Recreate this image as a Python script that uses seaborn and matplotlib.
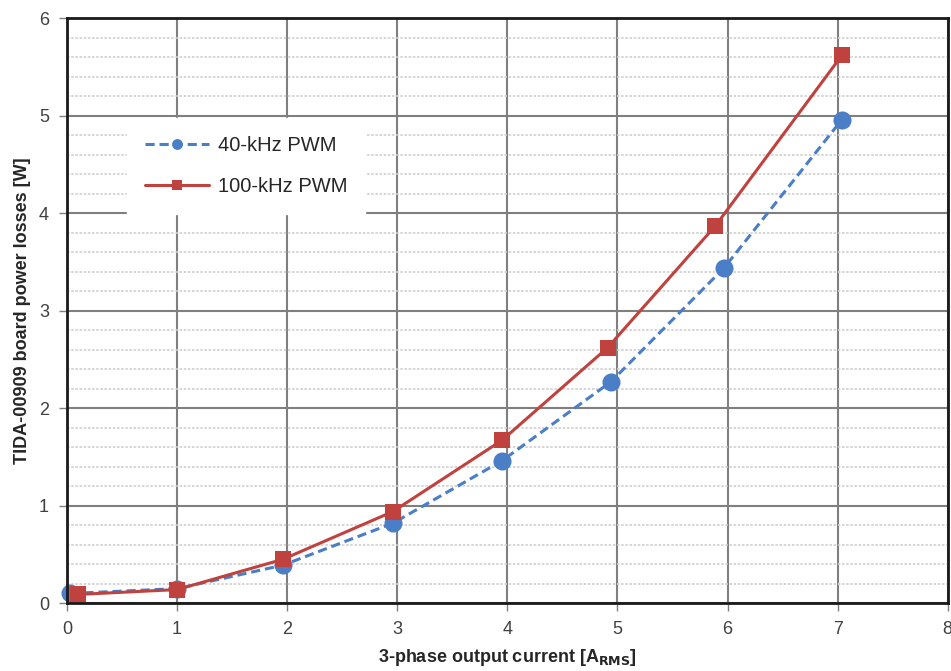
import numpy as np
import pandas as pd
import matplotlib
matplotlib.use("Agg")
import matplotlib.pyplot as plt
import seaborn as sns
from matplotlib.ticker import MultipleLocator

# data
current_40k = [0.03, 1.0, 1.96, 2.96, 3.95, 4.94, 5.97, 7.04]
loss_40k = [0.10, 0.15, 0.39, 0.82, 1.46, 2.27, 3.44, 4.96]
current_100k = [0.10, 1.0, 1.96, 2.96, 3.95, 4.91, 5.89, 7.04]
loss_100k = [0.09, 0.14, 0.45, 0.94, 1.67, 2.62, 3.87, 5.62]
series_names = ["40-kHz PWM", "100-kHz PWM"]

df = pd.concat([
    pd.DataFrame({"current": current_40k, "loss": loss_40k, "series": series_names[0]}),
    pd.DataFrame({"current": current_100k, "loss": loss_100k, "series": series_names[1]}),
])

sns.set_style("white")
plt.rcParams["font.family"] = ["Liberation Sans", "DejaVu Sans"]

fig = plt.figure(figsize=(9.51, 6.71), dpi=100)
ax = fig.add_axes([0.0705, 0.101, 0.926, 0.872])

blue = "#4a7ec6"
red = "#c0423f"

sns.lineplot(data=df[df.series == series_names[0]], x="current", y="loss", ax=ax,
             color=blue, linestyle=(0, (3, 1.6)), linewidth=2.2, marker="o",
             markersize=13, markeredgewidth=0, label=series_names[0], zorder=4,
             clip_on=False)
sns.lineplot(data=df[df.series == series_names[1]], x="current", y="loss", ax=ax,
             color=red, linewidth=2.2, marker="s", markersize=11,
             markeredgewidth=0, label=series_names[1], zorder=5)

ax.set_xlim(0, 8)
ax.set_ylim(0, 6)
ax.xaxis.set_major_locator(MultipleLocator(1))
ax.yaxis.set_major_locator(MultipleLocator(1))
ax.yaxis.set_minor_locator(MultipleLocator(0.2))
ax.grid(which="major", color="#7f7f7f", linewidth=1.5)
ax.grid(which="minor", axis="y", color="#d0d0d0", linewidth=1.2, linestyle=(0, (1.5, 1)))
ax.set_axisbelow(True)

for s in ax.spines.values():
    s.set_color("#1a1a1a")
    s.set_linewidth(2)
    s.set_zorder(6)

ax.tick_params(axis="both", which="major", labelsize=13, labelcolor="#404040",
               length=6, color="#7f7f7f", width=1, bottom=True, left=True, pad=7)
ax.tick_params(which="minor", left=False)

ax.set_xlabel(r"3-phase output current [A$_{\mathbf{RMS}}$]", fontsize=13,
              fontweight="bold", color="#262626", labelpad=6)
ax.set_ylabel("TIDA-00909 board power losses [W]", fontsize=13,
              fontweight="bold", color="#262626", labelpad=6)

leg = ax.legend(loc="upper left", bbox_to_anchor=(0.068, 0.83), borderaxespad=0,
                fontsize=14.5, frameon=True, fancybox=False, edgecolor="white",
                framealpha=1, handlelength=3.2, handletextpad=0.4, borderpad=0.9,
                labelspacing=1.1, markerscale=0.6)
for t in leg.get_texts():
    t.set_color("#262626")

fig.savefig("out.png", dpi=100)
